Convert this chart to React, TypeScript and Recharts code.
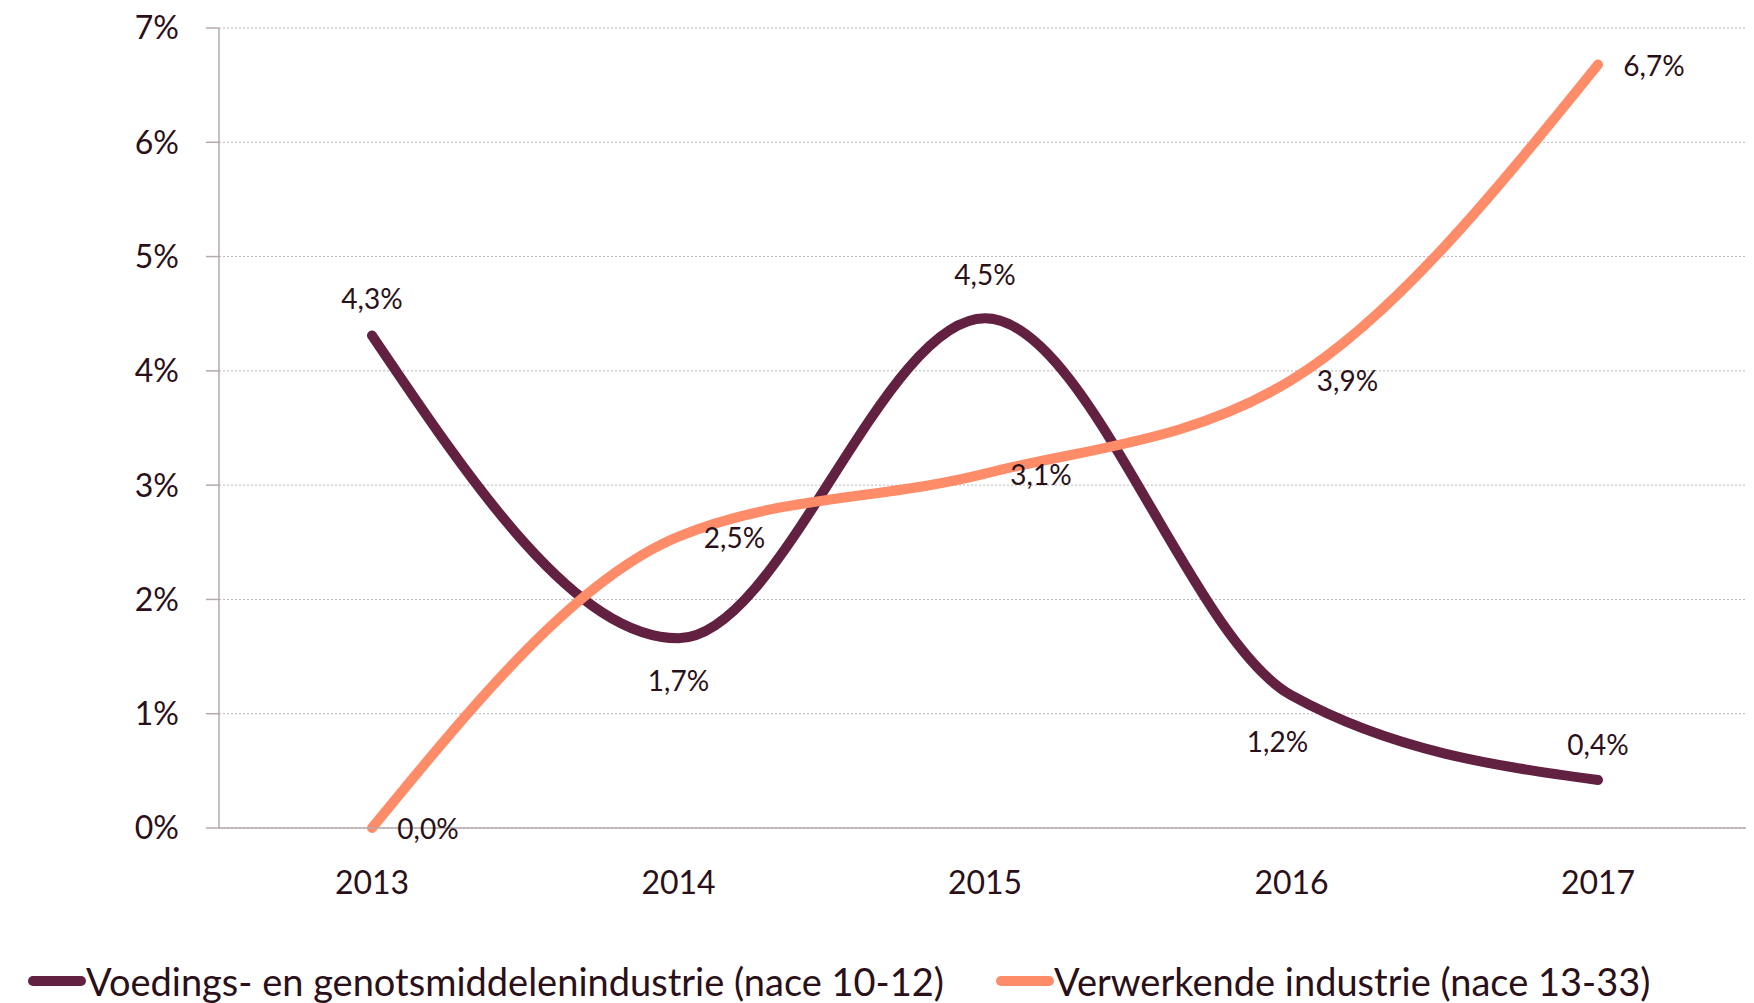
import { LineChart, Line, XAxis, YAxis, CartesianGrid, Legend, LabelList } from "recharts";

// values (percent)
const years = ["2013", "2014", "2015", "2016", "2017"];
const voeding = [4.31, 1.66, 4.46, 1.16, 0.42];
const verwerkend = [0.0, 2.55, 3.1, 3.92, 6.68];
const yTicks = [0, 1, 2, 3, 4, 5, 6, 7];

const seriesNames = {
    voeding: "Voedings- en genotsmiddelenindustrie (nace 10-12)",
    verwerkend: "Verwerkende industrie (nace 13-33)",
};

const MAROON = "#632142";
const SALMON = "#ff8c69";
const TEXT = "#2a1019";
const FONT = "Lato, 'Open Sans', sans-serif";

const data = years.map((year, i) => ({
    year,
    voeding: voeding[i],
    verwerkend: verwerkend[i],
}));

const fmt = (v: number) => v.toFixed(1).replace(".", ",") + "%";

// food-industry labels alternate above / below the point
const voedingDy = [-37, 42, -44, 46, -36];

function VoedingLabel(props: any) {
    const { x, y, value, index } = props;
    const dx = index === 3 ? -14 : 0;
    return (
        <text
            x={x + dx}
            y={y + voedingDy[index]}
            textAnchor="middle"
            dominantBaseline="central"
            fontSize={28}
            fontFamily={FONT}
            fill={TEXT}
        >
            {fmt(value)}
        </text>
    );
}

function VerwerkendLabel(props: any) {
    const { x, y, value } = props;
    return (
        <text
            x={x + 56}
            y={y}
            textAnchor="middle"
            dominantBaseline="central"
            fontSize={28}
            fontFamily={FONT}
            fill={TEXT}
        >
            {fmt(value)}
        </text>
    );
}

function LegendContent() {
    const items = [
        { key: "voeding", color: MAROON, left: 20 },
        { key: "verwerkend", color: SALMON, left: 988 },
    ];
    return (
        <div style={{ position: "relative", height: 40, fontFamily: FONT }}>
            {items.map((it) => (
                <div
                    key={it.key}
                    style={{
                        position: "absolute",
                        left: it.left,
                        top: 0,
                        height: 40,
                        display: "flex",
                        alignItems: "center",
                        whiteSpace: "nowrap",
                    }}
                >
                    <span
                        style={{
                            display: "inline-block",
                            width: 58,
                            height: 10,
                            borderRadius: 5,
                            background: it.color,
                        }}
                    />
                    <span style={{ fontSize: 38, color: TEXT, lineHeight: "40px" }}>
                        {seriesNames[it.key as keyof typeof seriesNames]}
                    </span>
                </div>
            ))}
        </div>
    );
}

export default function App() {
    return (
        <div style={{ width: 1746, height: 995, background: "#fff" }}>
            <style>{"body { overflow: hidden; }"}</style>
            <LineChart
                width={1746}
                height={995}
                data={data}
                margin={{ top: 20, right: 3, bottom: 0, left: 0 }}
            >
                <CartesianGrid
                    vertical={false}
                    stroke="#b8b8b8"
                    strokeDasharray="2 2"
                />
                <XAxis
                    dataKey="year"
                    height={135}
                    padding={{ left: 153, right: 153 }}
                    axisLine={{ stroke: "#b5a8ae", strokeWidth: 1.5 }}
                    tickLine={false}
                    tickMargin={37}
                    tick={{ fontSize: 32, fontFamily: FONT, fill: TEXT }}
                />
                <YAxis
                    width={211}
                    domain={[0, 7]}
                    ticks={yTicks}
                    interval={0}
                    tickFormatter={(v: number) => `${v}%`}
                    axisLine={{ stroke: "#b5a8ae", strokeWidth: 1.5 }}
                    tickLine={{ stroke: "#b5a8ae", strokeWidth: 1.5 }}
                    tickSize={13}
                    tickMargin={27}
                    tick={{ fontSize: 32, fontFamily: FONT, fill: TEXT }}
                />
                <Legend
                    verticalAlign="bottom"
                    wrapperStyle={{ bottom: 2 }}
                    content={<LegendContent />}
                />
                <Line
                    dataKey="voeding"
                    name={seriesNames.voeding}
                    type="monotone"
                    stroke={MAROON}
                    strokeWidth={10}
                    strokeLinecap="round"
                    dot={false}
                    activeDot={false}
                    isAnimationActive={false}
                >
                    <LabelList dataKey="voeding" content={<VoedingLabel />} />
                </Line>
                <Line
                    dataKey="verwerkend"
                    name={seriesNames.verwerkend}
                    type="monotone"
                    stroke={SALMON}
                    strokeWidth={10}
                    strokeLinecap="round"
                    dot={false}
                    activeDot={false}
                    isAnimationActive={false}
                >
                    <LabelList dataKey="verwerkend" content={<VerwerkendLabel />} />
                </Line>
            </LineChart>
        </div>
    );
}
